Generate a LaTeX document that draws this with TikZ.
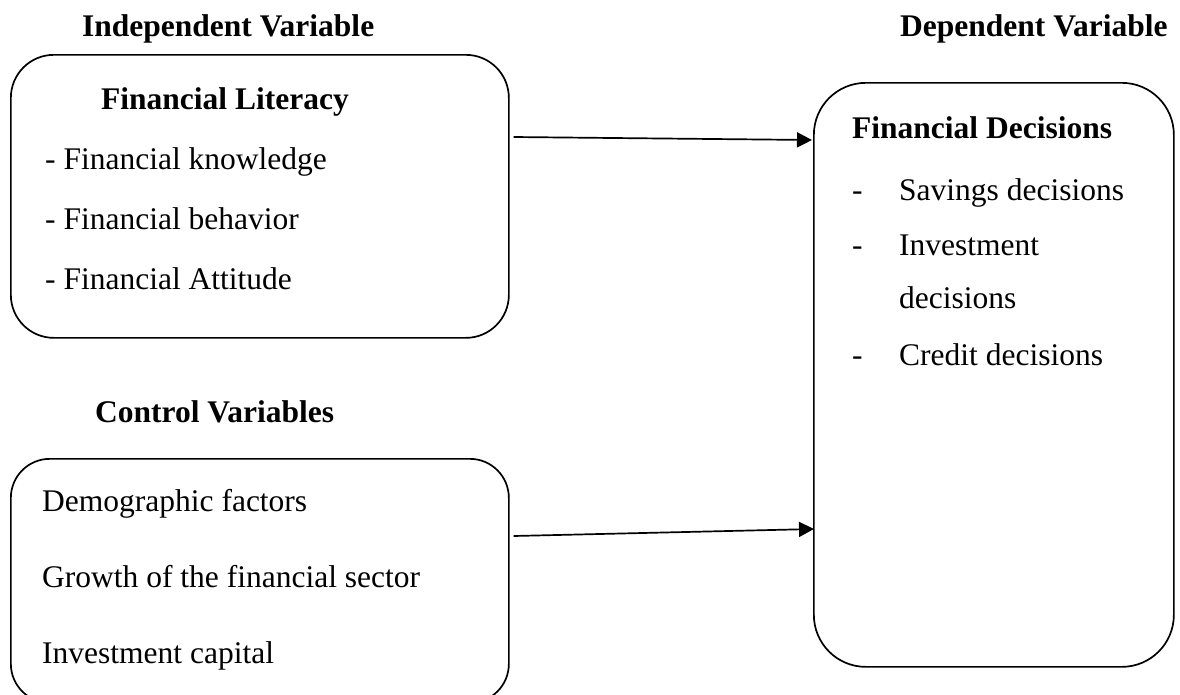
\documentclass[tikz,border=0pt]{standalone}
\usepackage{fontspec}
\setmainfont{Liberation Serif}
\usetikzlibrary{arrows.meta}
\begin{document}
\begin{tikzpicture}[x=1pt,y=-1pt,
  frame/.style={draw, line width=1.7pt, anchor=north west, inner sep=0pt},
  txt/.style={anchor=base west, inner sep=0pt, font=\fontsize{31.5}{38}\selectfont},
  head/.style={anchor=base west, inner sep=0pt, font=\fontsize{31.5}{38}\selectfont\bfseries},
  arr/.style={line width=1.7pt, -{Triangle[length=15pt,width=15pt]}}]
\useasboundingbox (0,0) rectangle (1180,694);

% boxes
\node[frame, rounded corners=43pt, minimum width=498pt, minimum height=283pt] (lit) at (10,54) {};
\node[frame, rounded corners=39pt, minimum width=498pt, minimum height=244pt] (ctrl) at (10,458) {};
\node[frame, rounded corners=52pt, minimum width=360pt, minimum height=584pt] (dec) at (813,82) {};

% titles
\node[head] (tind) at (82,36) {Independent Variable};
\node[head] (tdep) at (900,36) {Dependent Variable};
\node[head] (tctl) at (95,422) {Control Variables};

% financial literacy box
\node[head] (hlit) at (101,109) {Financial Literacy};
\node[txt] (l1) at (45,169) {- Financial knowledge};
\node[txt] (l2) at (45,229) {- Financial behavior};
\node[txt] (l3) at (45,289) {- Financial Attitude};

% control box
\node[txt] (c1) at (42,511) {Demographic factors};
\node[txt] (c2) at (42,587) {Growth of the financial sector};
\node[txt] (c3) at (42,663) {Investment capital};

% decisions box
\node[head] (hdec) at (852,138) {Financial Decisions};
\node[txt] (d1m) at (852,200) {-};
\node[txt] (d1) at (899,200) {Savings decisions};
\node[txt] (d2m) at (852,255) {-};
\node[txt] (d2) at (899,255) {Investment};
\node[txt] (d2b) at (899,308) {decisions};
\node[txt] (d3m) at (852,365) {-};
\node[txt] (d3) at (899,365) {Credit decisions};

% arrows
\draw[arr] ([shift={(4pt,-83pt)}]lit.north east) -- ([shift={(-1pt,-58pt)}]dec.north west);
\draw[arr] ([shift={(4pt,-78pt)}]ctrl.north east) -- ([shift={(1pt,-447pt)}]dec.north west);
\end{tikzpicture}
\end{document}
